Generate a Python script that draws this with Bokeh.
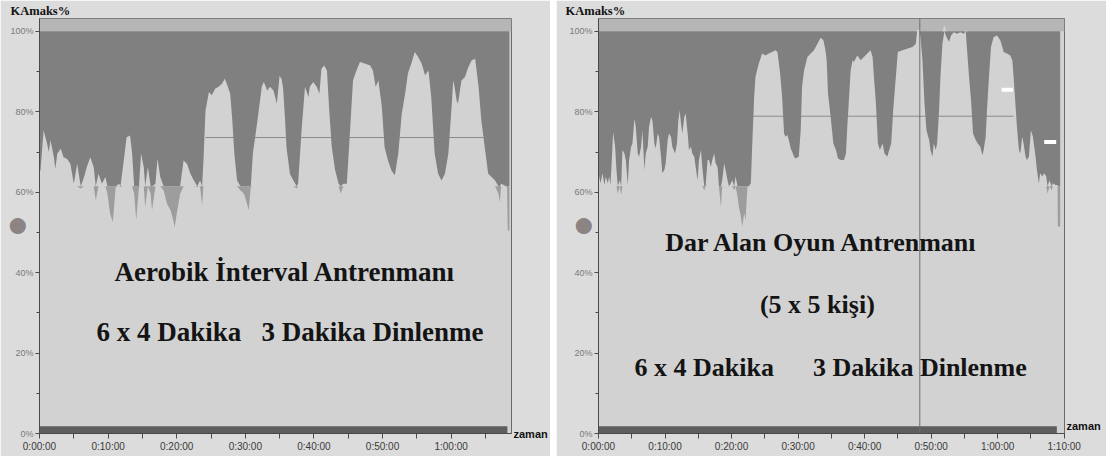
import numpy as np
from bokeh.plotting import figure
from bokeh.models import FixedTicker, Label, Range1d, Spacer, LinearAxis
from bokeh.layouts import row
from bokeh.embed import file_html
from bokeh.resources import INLINE

# ---------------- data (minutes, % of max HR) ----------------
left_samples = [
    (0.0, 65.4), (0.15, 65.4), (0.6, 75.4), (1.1, 72.1), (1.35, 70.0), (1.6, 72.9),
    (2.1, 68.7), (2.3, 65.8), (2.6, 69.6), (3.1, 70.8), (3.5, 68.7), (4.0, 68.3),
    (4.5, 67.1), (5.0, 62.1), (5.5, 67.1), (6.0, 60.9), (6.5, 63.8), (6.9, 66.3),
    (7.4, 68.7), (7.9, 66.3), (8.2, 58.0), (8.6, 64.6), (9.1, 62.1), (9.6, 63.8),
    (9.9, 59.6), (10.3, 54.6), (10.7, 52.6), (11.1, 61.3), (11.6, 62.1), (11.8, 61.3),
    (12.2, 66.7), (12.7, 73.7), (13.2, 74.1), (13.5, 69.6), (13.8, 59.6), (14.1, 53.0),
    (14.5, 61.3), (14.8, 69.6), (15.2, 66.3), (15.4, 56.3), (15.8, 66.3), (16.2, 59.6),
    (16.4, 55.5), (16.9, 62.1), (17.2, 68.3), (17.6, 63.8), (18.1, 60.4), (18.6, 57.1),
    (19.1, 55.5), (19.5, 53.0), (19.7, 51.3), (20.0, 54.6), (20.5, 59.6), (21.0, 67.9),
    (21.5, 67.1), (22.0, 64.6), (22.5, 62.9), (23.0, 61.3), (23.4, 62.9), (23.7, 56.7),
    (23.9, 67.9), (24.2, 80.3), (24.7, 84.9), (25.1, 84.1), (25.6, 85.7), (26.1, 86.2),
    (26.6, 87.0), (27.0, 88.2), (27.3, 87.0), (27.8, 84.5), (28.1, 77.9), (28.4, 69.6),
    (28.8, 62.9), (29.3, 60.4), (29.8, 59.6), (30.1, 58.0), (30.5, 55.5), (30.8, 61.3),
    (31.1, 69.6), (31.5, 74.5), (31.9, 79.5), (32.4, 86.2), (32.7, 87.4), (33.2, 85.3),
    (33.6, 86.2), (34.1, 85.3), (34.6, 82.0), (35.0, 89.0), (35.3, 88.0), (35.5, 86.0),
    (35.8, 77.9), (36.0, 71.2), (36.5, 64.6), (37.0, 62.9), (37.5, 60.9), (37.7, 62.1),
    (38.2, 75.4), (38.7, 86.2), (39.2, 83.7), (39.4, 86.2), (39.9, 87.4), (40.4, 86.2),
    (40.8, 84.5), (41.1, 90.7), (41.5, 91.5), (41.9, 90.3), (42.2, 81.2), (42.6, 71.2),
    (43.1, 65.4), (43.6, 62.1), (43.9, 59.6), (44.3, 62.1), (44.8, 62.1), (45.3, 76.2),
    (45.7, 87.8), (46.2, 90.3), (46.7, 92.4), (47.4, 92.0), (48.2, 91.5), (48.6, 90.3),
    (49.0, 86.2), (49.4, 87.8), (49.9, 81.2), (50.3, 71.2), (50.8, 67.9), (51.3, 65.4),
    (51.8, 64.2), (52.3, 69.6), (52.8, 79.5), (53.3, 84.5), (53.7, 89.5), (54.2, 92.0),
    (54.7, 94.9), (55.2, 93.6), (55.7, 92.0), (56.2, 89.1), (56.7, 90.3), (57.1, 83.7),
    (57.6, 69.6), (58.1, 64.6), (58.6, 62.9), (59.1, 64.6), (59.6, 69.6), (60.1, 82.0),
    (60.3, 87.8), (60.5, 86.2), (60.8, 82.8), (61.0, 82.0), (61.5, 87.8), (62.0, 88.6),
    (62.5, 91.1), (63.0, 92.8), (63.5, 93.2), (64.0, 86.2), (64.4, 77.9), (64.9, 71.2),
    (65.4, 64.6), (65.9, 63.8), (66.4, 62.9), (66.9, 59.6), (67.1, 57.5), (67.3, 62.1),
    (67.8, 61.7), (68.15, 61.3), (68.25, 50.5), (68.5, 50.5),
]

right_samples = [
    (0.0, 66.3), (0.1, 63.9), (0.3, 62.2), (0.6, 64.7), (0.9, 61.8), (1.1, 63.9),
    (1.4, 62.2), (1.6, 63.9), (1.8, 61.8), (2.0, 68.0), (2.2, 75.0), (2.5, 71.3),
    (2.7, 65.5), (2.9, 59.7), (3.2, 63.0), (3.4, 59.3), (3.6, 70.5), (3.9, 69.6),
    (4.1, 68.0), (4.4, 61.8), (4.6, 68.0), (4.9, 71.3), (5.1, 72.1), (5.4, 78.3),
    (5.6, 76.3), (5.9, 69.6), (6.1, 68.8), (6.4, 71.3), (6.6, 75.4), (6.9, 65.5),
    (7.1, 69.6), (7.4, 71.3), (7.6, 76.3), (7.9, 78.7), (8.1, 77.9), (8.4, 72.1),
    (8.6, 70.9), (8.9, 74.6), (9.1, 73.8), (9.4, 68.8), (9.6, 64.7), (9.9, 65.5),
    (10.1, 67.2), (10.4, 73.0), (10.6, 74.6), (10.9, 73.8), (11.1, 71.3), (11.5, 69.6),
    (11.8, 72.1), (12.0, 77.9), (12.2, 80.4), (12.4, 77.1), (12.6, 74.6), (12.9, 78.7),
    (13.1, 79.6), (13.4, 74.6), (13.6, 70.5), (13.9, 71.3), (14.1, 69.6), (14.4, 68.8),
    (14.6, 66.3), (14.9, 63.0), (15.1, 68.0), (15.4, 70.5), (15.6, 66.3), (15.9, 60.5),
    (16.1, 61.4), (16.4, 68.0), (16.6, 68.0), (16.9, 66.3), (17.1, 68.0), (17.4, 69.6),
    (17.6, 67.2), (17.9, 66.3), (18.1, 61.4), (18.4, 56.4), (18.6, 63.0), (18.9, 67.2),
    (19.1, 65.5), (19.4, 63.0), (19.6, 61.4), (19.9, 62.2), (20.1, 63.0), (20.4, 60.5),
    (20.6, 63.9), (20.9, 58.9), (21.1, 56.4), (21.4, 53.9), (21.6, 51.4), (21.9, 54.8),
    (22.1, 53.1), (22.4, 61.4), (22.6, 61.4), (22.9, 62.2), (23.1, 71.3), (23.4, 83.7),
    (23.6, 88.7), (24.1, 92.0), (24.6, 94.5), (25.1, 94.0), (25.6, 94.5), (26.1, 94.9),
    (26.6, 95.3), (26.9, 94.9), (27.3, 89.5), (27.6, 83.7), (27.9, 74.6), (28.1, 73.8),
    (28.4, 74.2), (28.6, 73.0), (28.9, 70.9), (29.1, 70.1), (29.4, 68.8), (29.6, 68.4),
    (30.1, 68.8), (30.4, 75.4), (30.6, 86.2), (30.9, 90.3), (31.4, 93.6), (31.9, 94.5),
    (32.4, 95.3), (32.9, 96.9), (33.4, 98.4), (33.8, 97.8), (34.1, 95.5), (34.3, 92.8),
    (34.5, 84.5), (34.9, 78.7), (35.3, 72.1), (35.7, 70.5), (36.0, 68.4), (36.4, 68.0),
    (36.9, 68.0), (37.2, 69.6), (37.4, 76.3), (37.7, 84.5), (37.9, 90.3), (38.2, 92.8),
    (38.4, 92.4), (38.9, 94.0), (39.4, 92.8), (39.9, 93.6), (40.4, 94.5), (40.9, 95.3),
    (41.2, 93.6), (41.4, 88.7), (41.7, 82.1), (42.0, 72.1), (42.3, 70.5), (42.7, 72.1),
    (43.0, 69.6), (43.4, 68.8), (43.7, 70.5), (44.0, 72.1), (44.3, 80.4), (44.7, 88.7),
    (45.0, 94.9), (45.7, 95.3), (46.4, 95.7), (47.2, 96.1), (47.7, 96.9), (47.9, 100.2),
    (48.2, 100.7), (48.4, 98.6), (48.7, 92.8), (49.0, 82.1), (49.3, 75.4), (49.7, 73.0),
    (49.9, 70.5), (50.2, 68.8), (50.4, 72.1), (50.7, 70.5), (50.9, 72.1), (51.2, 80.4),
    (51.4, 88.7), (51.7, 96.9), (52.0, 101.5), (52.3, 98.6), (52.7, 97.4), (53.0, 99.0),
    (53.4, 99.8), (53.9, 99.4), (54.4, 99.8), (54.9, 99.4), (55.2, 100.2), (55.7, 88.7),
    (56.0, 82.9), (56.3, 74.6), (56.7, 73.0), (57.0, 72.1), (57.4, 71.3), (57.7, 69.2),
    (57.9, 70.5), (58.2, 73.8), (58.4, 80.4), (58.7, 88.7), (59.0, 96.1), (59.4, 98.6),
    (59.9, 99.0), (60.4, 97.8), (60.7, 96.1), (60.9, 94.9), (61.4, 94.5), (61.9, 94.0),
    (62.2, 92.8), (62.4, 88.7), (62.7, 81.2), (62.9, 76.3), (63.2, 70.5), (63.4, 69.6),
    (63.7, 73.8), (63.9, 72.1), (64.2, 68.8), (64.4, 68.0), (64.7, 68.8), (65.0, 75.4),
    (65.3, 73.8), (65.7, 68.8), (65.9, 65.5), (66.2, 62.2), (66.4, 64.7), (66.7, 63.9),
    (67.0, 64.7), (67.3, 63.9), (67.5, 59.7), (67.8, 63.0), (68.1, 60.5), (68.3, 62.2),
    (68.7, 61.8), (69.0, 61.8), (69.05, 51.5), (69.4, 51.5),
]

# mean-level reference lines: (start min, end min, %)
left_ref_line = (24.2, 64.7, 73.6)
right_ref_line = (23.2, 62.4, 78.9)
right_marker_time = 48.3          # vertical marker in right chart
left_bar_end = 68.2               # bottom recording bar
right_bar_end = 68.9
zone_threshold = 61.5             # lower zone shown in lighter grey

y_ticks = [0, 20, 40, 60, 80, 100]
y_minor = [10, 30, 50, 70, 90]
y_tick_labels = ["0%", "20%", "40%", "60%", "80%", "100%"]
x_ticks_left = list(range(0, 70, 5))
x_ticks_right = list(range(0, 75, 5))
x_tick_labels = {0: "0:00:00", 10: "0:10:00", 20: "0:20:00", 30: "0:30:00",
                 40: "0:40:00", 50: "0:50:00", 60: "1:00:00", 70: "1:10:00"}

left_texts = ["Aerobik İnterval Antrenmanı",
              "6 x 4 Dakika\u00a0\u00a0\u00a03 Dakika Dinlenme"]
right_texts = ["Dar Alan Oyun Antrenmanı", "(5 x 5 kişi)",
               "6 x 4 Dakika\u00a0\u00a0\u00a0\u00a0\u00a0\u00a03 Dakika Dinlenme"]
# white marker dashes inside the right chart: (start, end, %)
right_dashes = [(60.6, 62.3, 85.5), (67.0, 68.8, 72.5)]

# ---------------- styling ----------------
DARK = "#808080"
MID = "#9d9d9d"
LIGHT = "#d2d2d2"
BAND = "#b6b6b6"
BORDER = "#dcdcdc"
YMAX = 103.2
SERIF = "Liberation Serif"
SANS = "Liberation Sans"
H = 456


def make_panel(samples, xmax, ticks, ref_line, bar_end, width, bl, br, title_offset,
               axis_name_level, ball_standoff, marker=None):
    t = np.array([s[0] for s in samples])
    hr = np.array([s[1] for s in samples])
    p = figure(width=width, height=H, output_backend="svg", toolbar_location=None,
               x_range=Range1d(0, xmax), y_range=Range1d(0, YMAX),
               min_border_left=bl, min_border_right=br, min_border_top=18,
               min_border_bottom=23)
    p.background_fill_color = LIGHT
    p.border_fill_color = BORDER
    p.outline_line_color = "#6a6a6a"
    p.grid.visible = False

    p.title.text = "KAmaks%"
    p.title.align = "left"
    p.title.offset = title_offset
    p.title.standoff = 1
    p.title.text_font = SERIF
    p.title.text_font_style = "bold"
    p.title.text_font_size = "12.5px"
    p.title.text_color = "#111111"

    # top band above 100 %
    p.quad(left=[0], right=[xmax], bottom=[100], top=[YMAX], color=BAND, line_color=None)
    # reference line (visible only in light areas)
    p.segment(x0=[ref_line[0]], x1=[ref_line[1]], y0=[ref_line[2]], y1=[ref_line[2]],
              line_color="#8c8c8c", line_width=1)
    # dark area between the heart-rate curve and 100 %
    p.varea(x=t, y1=np.clip(hr, zone_threshold, 100), y2=100, fill_color=DARK)
    # lower zone in lighter grey
    p.varea(x=t, y1=np.minimum(hr, zone_threshold), y2=zone_threshold, fill_color=MID)
    # peaks above 100 %
    p.varea(x=t, y1=100, y2=np.maximum(hr, 100), fill_color=LIGHT)
    # recording bar
    p.quad(left=[0], right=[bar_end], bottom=[0], top=[1.8], color="#5e5e5e", line_color=None)
    if marker is not None:
        p.segment(x0=[marker], x1=[marker], y0=[0], y1=[YMAX], line_color="#6e6e6e", line_width=1)

    yax = p.yaxis[0]
    yax.ticker = FixedTicker(ticks=y_ticks, minor_ticks=y_minor)
    yax.major_label_overrides = {v: l for v, l in zip(y_ticks, y_tick_labels)}
    yax.major_label_text_font = SANS
    yax.major_label_text_font_size = "9px"
    yax.major_label_text_color = "#7a7a7a"
    yax.axis_line_color = "#4a4a4a"
    yax.major_tick_line_color = "#4a4a4a"
    yax.minor_tick_line_color = "#4a4a4a"
    yax.major_tick_out = 4
    yax.major_tick_in = 0
    yax.minor_tick_out = 3
    yax.minor_tick_in = 0
    yax.major_label_standoff = 2
    # the grey status ball of the recording software, left of the axis
    yax.axis_label = "●"
    yax.axis_label_text_font = "DejaVu Sans"
    yax.axis_label_text_font_style = "normal"
    yax.axis_label_text_font_size = "21px"
    yax.axis_label_text_color = "#8c8383"
    yax.axis_label_standoff = ball_standoff

    xax = p.xaxis[0]
    xax.ticker = FixedTicker(ticks=ticks)
    xax.major_label_overrides = {v: x_tick_labels.get(v, "") for v in ticks}
    xax.major_label_text_font = SANS
    xax.major_label_text_font_size = "10px"
    xax.major_label_text_color = "#3a3a3a"
    xax.axis_line_color = "#4a4a4a"
    xax.major_tick_line_color = "#4a4a4a"
    xax.major_tick_out = 5
    xax.major_tick_in = 0
    xax.minor_tick_line_color = None
    xax.major_label_standoff = 2

    # "zaman" axis name, to the right of the frame
    rax = LinearAxis(ticker=FixedTicker(ticks=[axis_name_level]),
                     major_label_overrides={axis_name_level: "zaman"},
                     major_label_orientation="horizontal",
                     major_label_text_font=SANS, major_label_text_font_style="bold",
                     major_label_text_font_size="11px", major_label_text_color="#111111",
                     major_label_standoff=2, major_tick_out=0, major_tick_in=0,
                     minor_tick_out=0, minor_tick_in=0, axis_line_color=None,
                     major_tick_line_color=None, minor_tick_line_color=None)
    p.add_layout(rax, "right")
    return p


p1 = make_panel(left_samples, 68.8, x_ticks_left, left_ref_line, left_bar_end, 550, 39, 38,
                -29, 0, -21)
p2 = make_panel(right_samples, 70.05, x_ticks_right, right_ref_line, right_bar_end, 550, 42, 42,
                -33, 1.8, -28, marker=right_marker_time)

# big annotation texts
for txt, x, y in zip(left_texts, (35.8, 36.5), (40.1, 25.2)):
    p1.add_layout(Label(x=x, y=y, text=txt, text_font=SERIF, text_font_style="bold",
                        text_font_size="27px", text_color="#141414", text_align="center",
                        text_baseline="alphabetic"))
for txt, x, y in zip(right_texts, (33.6, 32.9, 34.9), (47.4, 32.0, 16.4)):
    p2.add_layout(Label(x=x, y=y, text=txt, text_font=SERIF, text_font_style="bold",
                        text_font_size="26px", text_color="#141414", text_align="center",
                        text_baseline="alphabetic"))

# white marker dashes
p2.quad(left=[d[0] for d in right_dashes], right=[d[1] for d in right_dashes],
        bottom=[d[2] - 0.5 for d in right_dashes], top=[d[2] + 0.5 for d in right_dashes],
        color="#ffffff", line_color=None)

layout = row(p1, Spacer(width=6), p2)
open("out.html", "w").write(file_html(layout, INLINE))
